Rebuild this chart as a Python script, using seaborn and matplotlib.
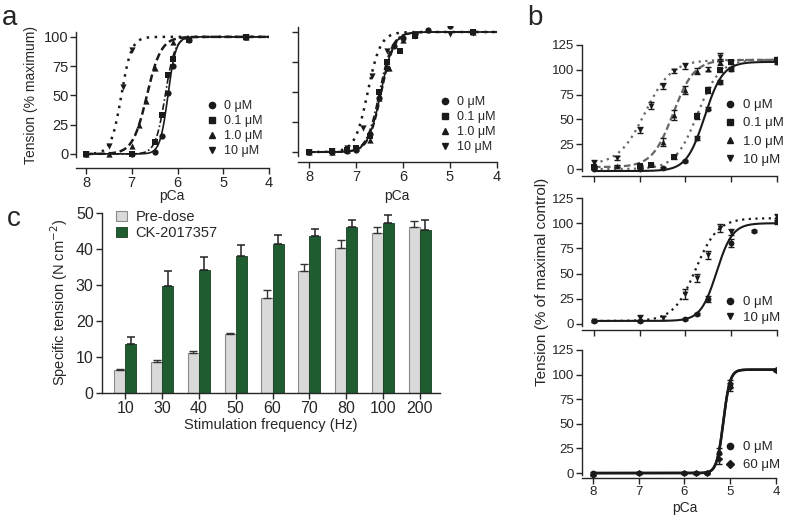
import numpy as np
import pandas as pd
import seaborn as sns
import matplotlib.pyplot as plt
from matplotlib.lines import Line2D
from matplotlib.patches import Patch

# ---- panel a, left: tension (% maximum) vs pCa
al_pca_0 = [8.0, 7.0, 6.5, 6.35, 6.2, 6.1, 5.75, 4.5]
al_val_0 = [0, 0, 2, 15, 52, 75, 97, 100]
al_pca_01 = [8.0, 7.0, 6.5, 6.35, 6.2, 6.1, 5.75, 4.5]
al_val_01 = [0, 0, 10, 33, 67, 81, 97, 100]
al_pca_1 = [8.0, 7.5, 7.0, 6.85, 6.7, 6.5, 6.1, 4.5]
al_val_1 = [0, 0, 7, 25, 45, 73, 96, 100]
al_pca_10 = [8.0, 7.5, 7.2, 7.0, 4.5]
al_val_10 = [0, 7, 57, 89, 100]

# ---- panel a, right
ar_pca_0 = [8.0, 7.5, 7.2, 7.0, 6.7, 6.5, 6.35, 6.2, 6.0, 5.75, 5.47, 5.0]
ar_val_0 = [0, 0, 1, 2, 15, 45, 70, 88, 95, 98, 102, 105]
ar_pca_01 = [8.0, 7.5, 7.2, 7.0, 6.7, 6.5, 6.35, 6.07, 5.75, 4.5]
ar_val_01 = [0, 1, 2, 3, 13, 50, 75, 84, 97, 100]
ar_pca_1 = [8.0, 7.5, 7.2, 7.0, 6.7, 6.5, 6.3, 6.0, 5.75, 4.5]
ar_val_1 = [0, 0, 2, 3, 10, 45, 70, 93, 98, 100]
ar_pca_10 = [8.0, 7.5, 7.2, 6.85, 6.67, 6.35, 5.75, 5.0, 4.5]
ar_val_10 = [0, 1, 3, 20, 63, 84, 97, 98, 99]

# ---- panel b, top
bt_pca_0 = [8.0, 7.0, 6.5, 6.0, 5.75, 5.5, 5.25, 5.0, 4.0]
bt_val_0 = [0, 0, 1, 8, 31, 61, 88, 101, 108]
bt_err_0 = [1, 1, 1, 1, 2, 2, 2, 2, 2]
bt_pca_01 = [8.0, 7.0, 6.75, 6.25, 5.75, 5.5, 5.25, 5.0, 4.0]
bt_val_01 = [2, 3, 4, 12, 53, 80, 100, 108, 110]
bt_err_01 = [1, 1, 1, 2, 3, 3, 2, 2, 2]
bt_pca_1 = [8.0, 7.5, 7.0, 6.5, 6.25, 6.0, 5.75, 5.5, 5.25, 4.0]
bt_val_1 = [2, 3, 2, 27, 54, 80, 99, 101, 108, 111]
bt_err_1 = [1, 1, 1, 4, 5, 4, 3, 2, 3, 2]
bt_pca_10 = [8.0, 7.5, 7.0, 6.75, 6.5, 6.25, 6.0, 5.25, 4.0]
bt_val_10 = [6, 11, 39, 64, 84, 99, 104, 113, 110]
bt_err_10 = [3, 2, 3, 4, 3, 2, 3, 4, 2]

# ---- panel b, middle
bm_pca_0 = [8.0, 7.0, 6.0, 5.75, 5.5, 5.0, 4.5, 4.0]
bm_val_0 = [3, 3, 5, 10, 25, 80, 92, 102]
bm_err_0 = [1, 1, 1, 1, 3, 4, 1, 3]
bm_pca_10 = [8.0, 7.0, 6.5, 6.0, 5.75, 5.5, 5.25, 5.0, 4.0]
bm_val_10 = [3, 6, 6, 30, 46, 68, 95, 91, 106]
bm_err_10 = [1, 3, 2, 5, 4, 4, 4, 3, 3]

# ---- panel b, bottom
bb_pca_0 = [8.0, 7.0, 6.0, 5.75, 5.5, 5.25, 5.0, 4.0]
bb_val_0 = [0, 0, 0, 0, 0, 20, 90, 105]
bb_pca_60 = [8.0, 7.0, 6.0, 5.75, 5.5, 5.25, 5.0, 4.0]
bb_val_60 = [-2, 0, 0, 0, 0, 14, 87, 105]
bb_err = [1, 1, 1, 1, 1, 5, 4, 1]

# Hill fit parameters: bottom, top, pCa50, nH
al_fit = {"0": (0, 100, 6.21, 5.0), "0.1": (0, 100, 6.27, 4.1),
          "1.0": (0, 100, 6.67, 2.8), "10": (0, 100, 7.23, 3.9)}
ar_fit = {"0": (0, 100, 6.47, 3.2), "0.1": (0, 100, 6.5, 3.2),
          "1.0": (0, 100, 6.46, 3.2), "10": (0, 100, 6.75, 3.2)}
bt_fit = {"0": (-2, 108, 5.58, 2.2), "0.1": (0, 110, 5.74, 1.8),
          "1.0": (2, 110, 6.27, 1.9), "10": (4, 110, 6.88, 1.5)}
bm_fit = {"0": (3, 100, 5.32, 2.5), "10": (3, 105, 5.78, 1.8)}
bb_fit = {"0": (0, 105, 5.15, 6.0), "60": (0, 105, 5.15, 6.0)}

# ---- panel c
freq = ["10", "30", "40", "50", "60", "70", "80", "100", "200"]
pre_dose = [6.5, 8.5, 11.0, 16.3, 26.5, 33.8, 40.2, 44.5, 46.2]
pre_err = [0.3, 0.8, 0.8, 0.5, 2.0, 2.0, 2.2, 1.7, 1.5]
ck_dose = [13.7, 29.8, 34.2, 38.0, 41.4, 43.5, 46.0, 47.3, 45.3]
ck_err = [1.9, 4.0, 3.5, 3.0, 2.5, 2.2, 2.1, 2.3, 2.8]

sns.set_theme(style="ticks")
plt.rcParams['font.family'] = ['Liberation Sans', 'DejaVu Sans']
plt.rcParams['axes.linewidth'] = 1.0

W, H = 800, 521
fig = plt.figure(figsize=(8, 5.21), dpi=100)


def box(x0, x1, y0, y1):
    return [x0 / W, 1 - y1 / H, (x1 - x0) / W, (y1 - y0) / H]


def fx(x):
    return x / W


def fy(y):
    return 1 - y / H


def hill(p, fit):
    lo, hi, p50, nh = fit
    return lo + (hi - lo) / (1 + 10 ** (nh * (p - p50)))


def curve(ax, fit, ls, color, lw, p_end=4.0):
    p = np.linspace(8.0, p_end, 300)
    df = pd.DataFrame({"pCa": p, "t": hill(p, fit)})
    sns.lineplot(data=df, x="pCa", y="t", ax=ax, color=color, lw=lw,
                 linestyle=ls, sort=False)


def points(ax, xs, ys, marker, ms=4.5, err=None, color="k"):
    if err is not None:
        ax.errorbar(xs, ys, yerr=err, fmt="none", ecolor=color, elinewidth=1,
                    capsize=2.5, capthick=1, zorder=3)
    df = pd.DataFrame({"pCa": xs, "t": ys})
    sns.scatterplot(data=df, x="pCa", y="t", ax=ax, marker=marker, color=color,
                    s=ms ** 2, linewidth=0, zorder=4)


def style_axes(ax, xlim, ylim, yticks, ybound, ticksize, xlabels=True, ylabels=True):
    ax.set_xlim(*xlim)
    ax.set_ylim(*ylim)
    ax.set_xticks([8, 7, 6, 5, 4])
    ax.set_yticks(yticks)
    ax.spines['top'].set_visible(False)
    ax.spines['right'].set_visible(False)
    ax.spines['left'].set_bounds(*ybound)
    ax.spines['bottom'].set_bounds(xlim[0], 4)
    ax.tick_params(length=4, width=1, labelsize=ticksize, pad=1.5)
    if not xlabels:
        ax.set_xticklabels([])
    if not ylabels:
        ax.set_yticklabels([])
    ax.set_xlabel("")
    ax.set_ylabel("")


def legend(ax, markers, labels, x, y, size, spacing, ms=4.5):
    handles = [Line2D([], [], marker=m, color="k", linestyle="none", markersize=ms)
               for m in markers]
    ax.legend(handles, labels, loc="upper left", bbox_to_anchor=(fx(x), fy(y)),
              bbox_transform=fig.transFigure, frameon=False, fontsize=size,
              handlelength=0.6, handletextpad=0.7, labelspacing=spacing,
              borderpad=0, borderaxespad=0)


conc4 = ["0 \u03bcM", "0.1 \u03bcM", "1.0 \u03bcM", "10 \u03bcM"]
mk4 = ["o", "s", "^", "v"]

# ---- a left
ax1 = fig.add_axes(box(76, 269, 31, 168))
curve(ax1, al_fit["0"], "-", "k", 1.2)
curve(ax1, al_fit["0.1"], (0, (4, 1.5, 1, 1.5)), "k", 1.2)
curve(ax1, al_fit["1.0"], (0, (3, 1.5)), "k", 1.8)
curve(ax1, al_fit["10"], (0, (1, 2.2)), "k", 1.8)
points(ax1, al_pca_0, al_val_0, "o")
points(ax1, al_pca_01, al_val_01, "s")
points(ax1, al_pca_1, al_val_1, "^")
points(ax1, al_pca_10, al_val_10, "v")
style_axes(ax1, (8.22, 4.0), (-12, 105), [0, 25, 50, 75, 100], (-3, 104), 10.5)
legend(ax1, mk4, conc4, 208, 100, 9, 0.25)

# ---- a right
ax2 = fig.add_axes(box(298, 497, 26, 162))
curve(ax2, ar_fit["0"], "-", "k", 1.2)
curve(ax2, ar_fit["0.1"], (0, (4, 1.5, 1, 1.5)), "k", 1.2)
curve(ax2, ar_fit["1.0"], (0, (3, 1.5)), "k", 1.5)
curve(ax2, ar_fit["10"], (0, (1, 2.2)), "k", 1.8)
points(ax2, ar_pca_0, ar_val_0, "o")
points(ax2, ar_pca_01, ar_val_01, "s")
points(ax2, ar_pca_1, ar_val_1, "^")
points(ax2, ar_pca_10, ar_val_10, "v")
style_axes(ax2, (8.234, 4.0), (-8.3, 105), [0, 25, 50, 75, 100], (-3, 104), 10.5,
           ylabels=False)
legend(ax2, mk4, conc4, 441, 96, 9, 0.25)

fig.text(fx(31), fy(95), "Tension (% maximum)", rotation=90, ha="center",
         va="center", fontsize=10)
fig.text(fx(172), fy(196), "pCa", ha="center", va="center", fontsize=10)
fig.text(fx(397), fy(196), "pCa", ha="center", va="center", fontsize=10)

# ---- b top
gray = "#666666"
ax3 = fig.add_axes(box(582, 777, 42, 176))
curve(ax3, bt_fit["0"], "-", "k", 1.5)
curve(ax3, bt_fit["0.1"], (0, (1, 2)), gray, 1.6)
curve(ax3, bt_fit["1.0"], (0, (3, 1.5)), gray, 1.6)
curve(ax3, bt_fit["10"], (0, (1, 2)), gray, 1.6)
points(ax3, bt_pca_0, bt_val_0, "o", 4.2, bt_err_0)
points(ax3, bt_pca_01, bt_val_01, "s", 4.2, bt_err_01)
points(ax3, bt_pca_1, bt_val_1, "^", 4.2, bt_err_1)
points(ax3, bt_pca_10, bt_val_10, "v", 4.2, bt_err_10)
style_axes(ax3, (8.26, 4.0), (-7, 128), [0, 25, 50, 75, 100, 125], (-2, 125), 9.5,
           xlabels=False)
legend(ax3, mk4, conc4, 726, 99, 9.5, 0.45)

# ---- b middle
ax4 = fig.add_axes(box(582, 777, 195, 330))
curve(ax4, bm_fit["0"], "-", "k", 1.5)
curve(ax4, bm_fit["10"], (0, (1, 2)), "k", 1.6)
points(ax4, bm_pca_0, bm_val_0, "o", 4.2, bm_err_0)
points(ax4, bm_pca_10, bm_val_10, "v", 4.2, bm_err_10)
style_axes(ax4, (8.26, 4.0), (-6, 128), [0, 25, 50, 75, 100, 125], (-2, 125), 9.5,
           xlabels=False)
legend(ax4, ["o", "v"], ["0 \u03bcM", "10 \u03bcM"], 726, 296, 9.5, 0.25)

# ---- b bottom
ax5 = fig.add_axes(box(582, 776, 347, 478))
curve(ax5, bb_fit["0"], "-", "k", 1.8)
curve(ax5, bb_fit["60"], "-", "k", 1.8)
points(ax5, bb_pca_0, bb_val_0, "o", 4.2, bb_err)
points(ax5, bb_pca_60, bb_val_60, "D", 3.6, bb_err)
style_axes(ax5, (8.24, 4.0), (-5, 128), [0, 25, 50, 75, 100, 125], (-2, 125), 9.5)
legend(ax5, ["o", "D"], ["0 \u03bcM", "60 \u03bcM"], 726, 441, 9.5, 0.45)
fig.text(fx(685), fy(508), "pCa", ha="center", va="center", fontsize=10)
fig.text(fx(542), fy(282), "Tension (% of maximal control)", rotation=90,
         ha="center", va="center", fontsize=11)

# ---- c bars
ax6 = fig.add_axes(box(102, 440, 212, 393))
df = pd.DataFrame({
    "freq": freq * 2,
    "tension": pre_dose + ck_dose,
    "group": ["Pre-dose"] * len(freq) + ["CK-2017357"] * len(freq),
})
pal = {"Pre-dose": "#d9d9d9", "CK-2017357": "#1f5d31"}
sns.barplot(data=df, x="freq", y="tension", hue="group", palette=pal, ax=ax6,
            width=0.6, errorbar=None, legend=False, saturation=1)
bars = ax6.patches
n = len(freq)
for i, b in enumerate(bars[:2 * n]):
    if i < n:
        b.set_edgecolor("#8a8a8a")
        b.set_linewidth(0.8)
    else:
        b.set_edgecolor("#163f22")
        b.set_linewidth(0.6)
xs_pre = [b.get_x() + b.get_width() / 2 for b in bars[:n]]
xs_ck = [b.get_x() + b.get_width() / 2 for b in bars[n:2 * n]]
ax6.errorbar(xs_pre, pre_dose, yerr=[np.zeros(n), pre_err], fmt="none",
             ecolor="#333333", elinewidth=1, capsize=3, capthick=1)
ax6.errorbar(xs_ck, ck_dose, yerr=[np.zeros(n), ck_err], fmt="none",
             ecolor="#222222", elinewidth=1.1, capsize=3, capthick=1.1)
ax6.set_xlim(-0.633, 8.55)
ax6.set_ylim(0, 50.3)
ax6.set_yticks([0, 10, 20, 30, 40, 50])
ax6.spines['top'].set_visible(False)
ax6.spines['right'].set_visible(False)
ax6.spines['left'].set_bounds(0, 50)
ax6.tick_params(length=4, width=1, labelsize=11.5, pad=2)
ax6.set_xlabel("Stimulation frequency (Hz)", fontsize=10.5, labelpad=1)
ax6.set_ylabel("Specific tension (N cm$^{-2}$)", fontsize=10.5, labelpad=4)
ax6.legend([Patch(facecolor="#d9d9d9", edgecolor="#8a8a8a", lw=0.8),
            Patch(facecolor="#1f5d31", edgecolor="#163f22", lw=0.6)],
           ["Pre-dose", "CK-2017357"], loc="upper left",
           bbox_to_anchor=(fx(116), fy(210)), bbox_transform=fig.transFigure,
           frameon=False, fontsize=10.5, handlelength=0.75, handleheight=0.75,
           handletextpad=0.6, labelspacing=0.15, borderpad=0, borderaxespad=0)

# panel letters
fig.text(fx(10), fy(18), "a", ha="center", va="center", fontsize=20)
fig.text(fx(535), fy(18), "b", ha="center", va="center", fontsize=20)
fig.text(fx(14), fy(219), "c", ha="center", va="center", fontsize=20)

fig.savefig("out.png", dpi=100)
